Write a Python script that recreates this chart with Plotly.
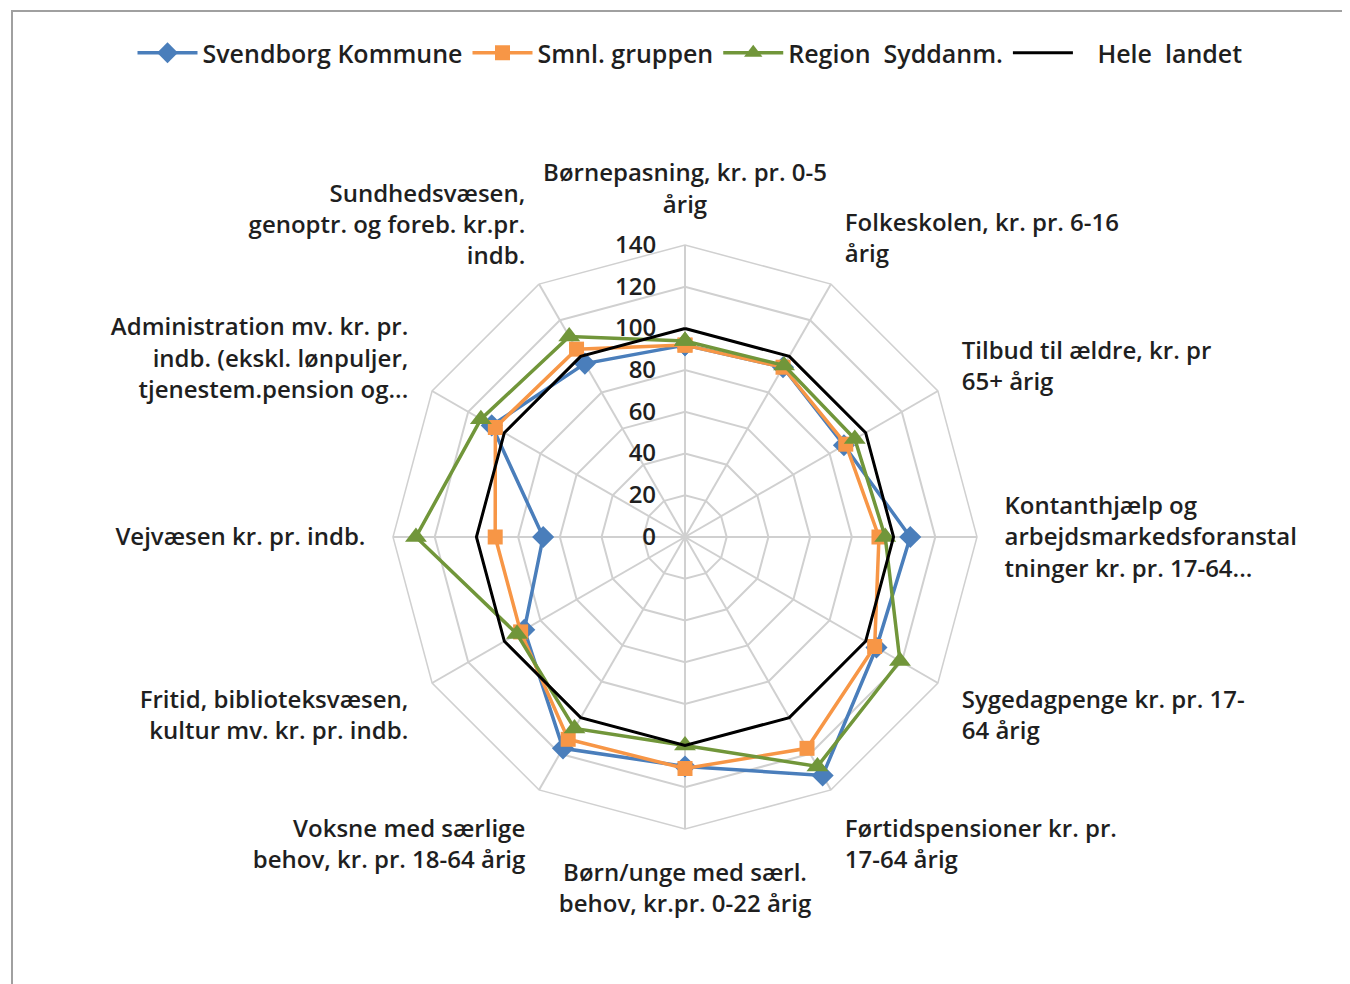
import plotly.graph_objects as go

categories = [
    "Børnepasning, kr. pr. 0-5<br>årig",
    "Folkeskolen, kr. pr. 6-16<br>årig",
    "Tilbud til ældre, kr. pr<br>65+ årig",
    "Kontanthjælp og<br>arbejdsmarkedsforanstal<br>tninger kr. pr. 17-64...",
    "Sygedagpenge kr. pr. 17-<br>64 årig",
    "Førtidspensioner kr. pr.<br>17-64 årig",
    "Børn/unge med særl.<br>behov, kr.pr. 0-22 årig",
    "Voksne med særlige<br>behov, kr. pr. 18-64 årig",
    "Fritid, biblioteksvæsen,<br>kultur mv. kr. pr. indb.",
    "Vejvæsen kr. pr. indb.",
    "Administration mv. kr. pr.<br>indb. (ekskl. lønpuljer,<br>tjenestem.pension og...",
    "Sundhedsvæsen,<br>genoptr. og foreb. kr.pr.<br>indb.",
]

svendborg = [92, 94, 88, 108, 106, 132, 110, 117, 89, 68, 107, 96]
smnl_gruppen = [92, 94, 89, 93, 105, 117, 111, 112, 91, 91, 105, 104]
region_syddanm = [94, 95, 94, 96, 119, 127, 100, 106, 93, 129, 113, 111]
hele_landet = [100] * 12

radial_ticks = [0, 20, 40, 60, 80, 100, 120, 140]

FONT = "Open Sans"
TXT = "#1f1f1f"
WEIGHT = 600


def closed(vals):
    return vals + vals[:1]


theta = closed(categories)

fig = go.Figure()
fig.add_trace(go.Scatterpolar(
    r=closed(svendborg), theta=theta, name="Svendborg Kommune",
    mode="lines+markers",
    line=dict(color="#4A7EBB", width=3.5),
    marker=dict(symbol="diamond", size=17, color="#4A7EBB"),
))
fig.add_trace(go.Scatterpolar(
    r=closed(smnl_gruppen), theta=theta, name="Smnl. gruppen",
    mode="lines+markers",
    line=dict(color="#F79646", width=3.5),
    marker=dict(symbol="square", size=15, color="#F79646"),
))
fig.add_trace(go.Scatterpolar(
    r=closed(region_syddanm), theta=theta, name="Region  Syddanm.",
    mode="lines+markers",
    line=dict(color="#71963A", width=3.5),
    marker=dict(symbol="triangle-up", size=19, color="#71963A"),
))
fig.add_trace(go.Scatterpolar(
    r=closed(hele_landet), theta=theta, name="   Hele  landet",
    mode="lines",
    line=dict(color="#000000", width=3),
))

# page body has an 8px margin, so shift the intended positions by -8px
OFF = 8
cx, cy, R = 685 - OFF, 537 - OFF, 292
W, H = 1350, 984

fig.update_layout(
    width=W, height=H,
    margin=dict(l=0, r=0, t=0, b=0),
    paper_bgcolor="white",
    font=dict(family=FONT, color=TXT, size=24, weight=WEIGHT),
    showlegend=True,
    legend=dict(
        orientation="h", x=(690 - OFF) / W, xanchor="center", y=1 - (53 - OFF) / H, yanchor="middle",
        font=dict(family=FONT, size=25, color=TXT, weight=WEIGHT),
        itemwidth=60, tracegroupgap=0,
    ),
    polar=dict(
        domain=dict(x=[(cx - R) / W, (cx + R) / W], y=[(H - cy - R) / H, (H - cy + R) / H]),
        bgcolor="white",
        gridshape="linear",
        radialaxis=dict(
            range=[0, 140], tickvals=radial_ticks, angle=90, tickangle=90,
            side="counterclockwise",
            showline=False, gridcolor="#D0D0D0", gridwidth=1.5,
            tickfont=dict(family=FONT, size=24, color=TXT, weight=WEIGHT),
            ticks="outside", ticklen=20, tickcolor="rgba(0,0,0,0)",
        ),
        angularaxis=dict(
            direction="clockwise", rotation=90,
            gridcolor="#D0D0D0", gridwidth=1.5,
            linecolor="#D0D0D0", linewidth=1.5,
            ticks="outside", ticklen=22, tickcolor="rgba(0,0,0,0)",
            tickfont=dict(family=FONT, size=24, color=TXT, weight=WEIGHT),
        ),
    ),
    shapes=[dict(
        type="rect", xref="paper", yref="paper",
        x0=(12 - OFF) / W, x1=1.2, y0=-0.2, y1=1 - (11 - OFF) / H,
        line=dict(color="#A0A0A0", width=2), fillcolor="rgba(0,0,0,0)",
        layer="below",
    )],
)

fig.write_html("out.html")
